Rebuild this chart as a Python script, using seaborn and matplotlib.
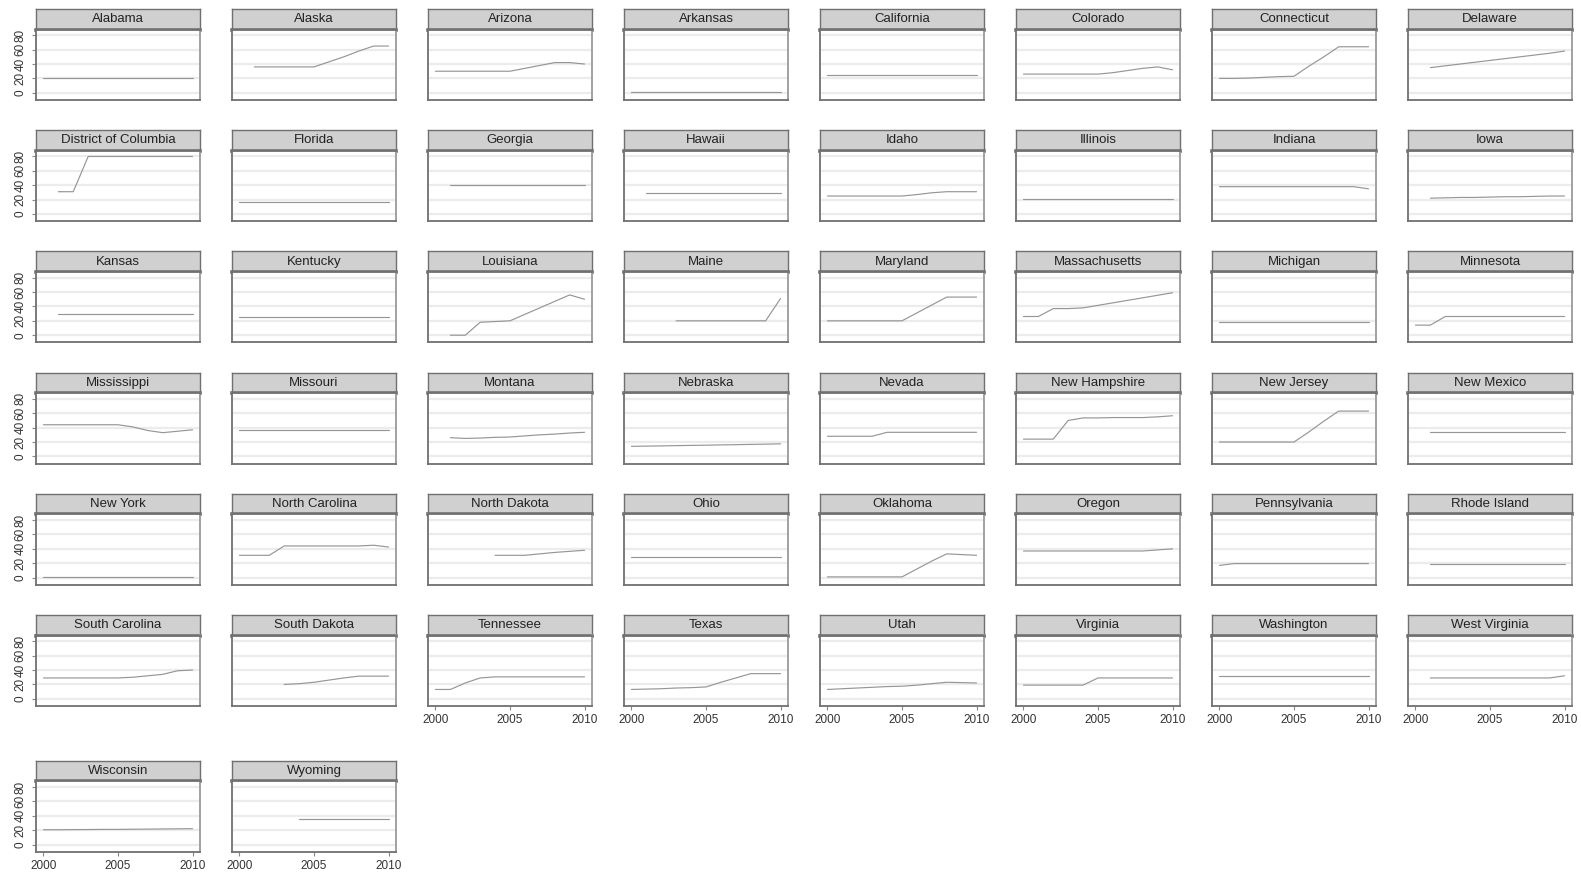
import pandas as pd
import matplotlib.pyplot as plt
import seaborn as sns

sns.set_theme(style="white")
plt.rcParams['font.family'] = ['Liberation Sans', 'DejaVu Sans']

# state names in panel order
states = ["Alabama", "Alaska", "Arizona", "Arkansas", "California", "Colorado", "Connecticut", "Delaware",
          "District of Columbia", "Florida", "Georgia", "Hawaii", "Idaho", "Illinois", "Indiana", "Iowa",
          "Kansas", "Kentucky", "Louisiana", "Maine", "Maryland", "Massachusetts", "Michigan", "Minnesota",
          "Mississippi", "Missouri", "Montana", "Nebraska", "Nevada", "New Hampshire", "New Jersey", "New Mexico",
          "New York", "North Carolina", "North Dakota", "Ohio", "Oklahoma", "Oregon", "Pennsylvania", "Rhode Island",
          "South Carolina", "South Dakota", "Tennessee", "Texas", "Utah", "Virginia", "Washington", "West Virginia",
          "Wisconsin", "Wyoming"]

# first year with data for each state (values run up to 2010)
first_year = [2000, 2001, 2000, 2000, 2000, 2000, 2000, 2001,
              2001, 2000, 2001, 2001, 2000, 2000, 2000, 2001,
              2001, 2000, 2001, 2003, 2000, 2000, 2000, 2000,
              2000, 2000, 2001, 2000, 2000, 2000, 2000, 2001,
              2000, 2000, 2004, 2000, 2000, 2000, 2000, 2001,
              2000, 2003, 2000, 2000, 2000, 2000, 2000, 2001,
              2000, 2004]

al = [20, 20, 20, 20, 20, 20, 20, 20, 20, 20, 20]
ak = [36, 36, 36, 36, 36, 43, 50, 58, 65, 65]
az = [30, 30, 30, 30, 30, 30, 34, 38, 42, 42, 40]
ar = [1, 1, 1, 1, 1, 1, 1, 1, 1, 1, 1]
ca = [25, 25, 25, 25, 25, 25, 25, 25, 25, 25, 25]
co = [26, 26, 26, 26, 26, 26, 28, 31, 34, 36, 32]
ct = [20, 20, 20.5, 21.5, 22.5, 23, 37, 50, 64, 64, 64]
de = [35, 37.5, 40, 42.5, 45, 47.5, 50, 52.5, 55, 58]
dc = [31, 31, 80, 80, 80, 80, 80, 80, 80, 80]
fl = [16, 16, 16, 16, 16, 16, 16, 16, 16, 16, 16]
ga = [41, 41, 41, 41, 41, 41, 41, 41, 41, 41]
hi = [29, 29, 29, 29, 29, 29, 29, 29, 29, 29]
id_ = [25, 25, 25, 25, 25, 25, 27, 29.5, 31, 31, 31]
il = [21, 21, 21, 21, 21, 21, 21, 21, 21, 21, 21]
in_ = [38, 38, 38, 38, 38, 38, 38, 38, 38, 38, 35]
ia = [22, 22.5, 23, 23, 23.5, 24, 24, 24.5, 25, 25]
ks = [29, 29, 29, 29, 29, 29, 29, 29, 29, 29]
ky = [25, 25, 25, 25, 25, 25, 25, 25, 25, 25, 25]
la = [0, 0, 18, 19, 20, 29, 38, 47, 56, 50]
me = [20, 20, 20, 20, 20, 20, 20, 51]
md = [20, 20, 20, 20, 20, 20, 31, 42, 53, 53, 53]
ma = [26, 26, 37, 37, 38, 41.5, 45, 48.5, 52, 55.5, 59]
mi = [18, 18, 18, 18, 18, 18, 18, 18, 18, 18, 18]
mn = [14, 14, 26, 26, 26, 26, 26, 26, 26, 26, 26]
ms = [44, 44, 44, 44, 44, 44, 41, 36, 33, 35, 37]
mo = [37, 37, 37, 37, 37, 37, 37, 37, 37, 37, 37]
mt = [26, 25, 25.5, 26.5, 27, 28.5, 30, 31, 32.5, 33.5]
ne = [14, 14.3, 14.6, 15, 15.3, 15.6, 16, 16.3, 16.7, 17, 17.5]
nv = [28, 28, 28, 28, 33.5, 33.5, 33.5, 33.5, 33.5, 33.5, 33.5]
nh = [24, 24, 24, 50, 53.5, 53.5, 54, 54, 54, 55, 56.5]
nj = [20, 20, 20, 20, 20, 20, 34, 49, 63, 63, 63]
nm = [33.5, 33.5, 33.5, 33.5, 33.5, 33.5, 33.5, 33.5, 33.5, 33.5]
ny = [1, 1, 1, 1, 1, 1, 1, 1, 1, 1, 1]
nc = [31, 31, 31, 44, 44, 44, 44, 44, 44, 45, 42.5]
nd = [31, 31, 31, 33, 35, 36.5, 38]
oh = [28, 28, 28, 28, 28, 28, 28, 28, 28, 28, 28]
ok = [1, 1, 1, 1, 1, 1, 12, 23, 33, 32, 31]
or_ = [37, 37, 37, 37, 37, 37, 37, 37, 37, 38.5, 40]
pa = [17, 19.5, 19.5, 19.5, 19.5, 19.5, 19.5, 19.5, 19.5, 19.5, 19.5]
ri = [19.5, 19.5, 19.5, 19.5, 19.5, 19.5, 19.5, 19.5, 19.5, 19.5]
sc = [29, 29, 29, 29, 29, 29, 30, 32, 34, 39, 40]
sd = [20, 21, 23, 26, 29, 31.5, 31.5, 31.5]
tn = [13, 13, 22, 29, 30.5, 30.5, 30.5, 30.5, 30.5, 30.5, 30.5]
tx = [13, 13.5, 14, 15, 15.5, 16.5, 23, 29, 35, 35, 35]
ut = [13, 14, 15, 16, 17, 17.5, 19, 21, 23, 22.5, 22]
va = [19, 19, 19, 19, 19, 29, 29, 29, 29, 29, 29]
wa = [31.5, 31.5, 31.5, 31.5, 31.5, 31.5, 31.5, 31.5, 31.5, 31.5, 31.5]
wv = [29, 29, 29, 29, 29, 29, 29, 29, 29, 32]
wi = [20.5, 20.5, 20.7, 20.8, 21, 21, 21.2, 21.4, 21.6, 21.8, 22]
wy = [35.7, 35.7, 35.7, 35.7, 35.7, 35.7, 35.7]

series = [al, ak, az, ar, ca, co, ct, de, dc, fl, ga, hi, id_, il, in_, ia,
          ks, ky, la, me, md, ma, mi, mn, ms, mo, mt, ne, nv, nh, nj, nm,
          ny, nc, nd, oh, ok, or_, pa, ri, sc, sd, tn, tx, ut, va, wa, wv,
          wi, wy]

yticks = [0, 20, 40, 60, 80]
xticks = [2000, 2005, 2010]

# long table
rows = []
for st, fy, vals in zip(states, first_year, series):
    for k, v in enumerate(vals):
        rows.append((st, fy + k, v))
df = pd.DataFrame(rows, columns=["state", "year", "value"])

W, H = 1581, 875
fig = plt.figure(figsize=(W / 100, H / 100), dpi=100)

ncol = 8
strip_h = 20.5
plot_h = 70.5
panel_w = 164
frame_col = "#707070"

for i, st in enumerate(states):
    r, c = divmod(i, ncol)
    left = 36 + c * 196
    top = 760.7 if r == 6 else 9 + r * 121.2

    # strip with the state name
    sax = fig.add_axes([left / W, 1 - (top + strip_h) / H, panel_w / W, strip_h / H])
    sax.set_facecolor("#d0d0d0")
    sax.set_xticks([])
    sax.set_yticks([])
    for s in sax.spines.values():
        s.set_color(frame_col)
        s.set_linewidth(1.0)
    sax.spines["bottom"].set_linewidth(2.6)
    sax.text(0.5, 0.5, st, ha="center", va="center", fontsize=9.5, color="#222222",
             transform=sax.transAxes)

    ax = fig.add_axes([left / W, 1 - (top + strip_h + plot_h) / H, panel_w / W, plot_h / H])
    for y in yticks:
        ax.axhline(y, color="#ececec", linewidth=1.6, zorder=0)
    sns.lineplot(data=df[df.state == st], x="year", y="value", ax=ax,
                 color="#969696", linewidth=0.85, zorder=3)
    ax.set_xlim(1999.5, 2010.5)
    ax.set_ylim(-10, 88)
    ax.set_xlabel("")
    ax.set_ylabel("")
    for s in ax.spines.values():
        s.set_color(frame_col)
        s.set_linewidth(1.3)
    ax.spines["right"].set_color("#9a9a9a")

    bottom_of_col = (r == 6) or (r == 5 and c >= 2)
    ax.set_xticks(xticks)
    ax.set_yticks(yticks)
    if bottom_of_col:
        ax.tick_params(axis="x", bottom=True, length=3, width=0.8, color="#888888",
                       labelsize=8.5, pad=3, labelcolor="#333333")
    else:
        ax.tick_params(axis="x", bottom=False, labelbottom=False)
    if c == 0:
        ax.tick_params(axis="y", left=True, length=3, width=0.8, color="#888888",
                       labelsize=8.5, pad=4, labelcolor="#333333")
        for lbl in ax.get_yticklabels():
            lbl.set_rotation(90)
            lbl.set_va("center")
    else:
        ax.tick_params(axis="y", left=False, labelleft=False)

fig.savefig("out.png", dpi=100)
